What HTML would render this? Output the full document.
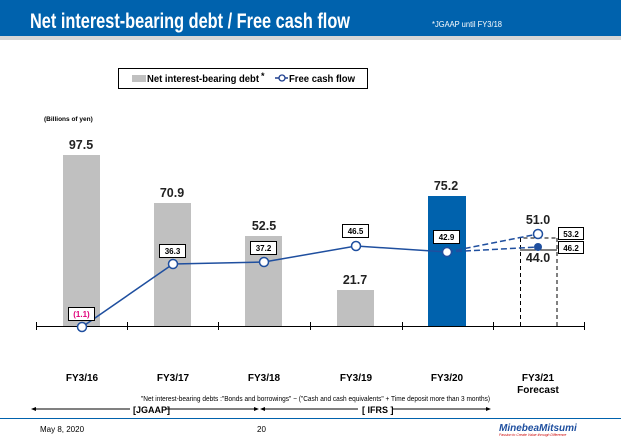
<!DOCTYPE html><html><head><style>body{margin:0;width:621px;height:438px;overflow:hidden;background:#fff;font-family:"Liberation Sans",sans-serif}</style></head><body>
<svg width="621" height="438" xmlns="http://www.w3.org/2000/svg" font-family="Liberation Sans, sans-serif">
<rect x="0" y="0" width="621" height="36" fill="#0062ad"/>
<rect x="0" y="36" width="621" height="4" fill="#d6d6d6"/>
<text x="30" y="28" font-size="21" font-weight="bold" fill="#fff" textLength="320" lengthAdjust="spacingAndGlyphs">Net interest-bearing debt / Free cash flow</text>
<text x="432" y="27" font-size="8" fill="#fff" textLength="70" lengthAdjust="spacingAndGlyphs">*JGAAP until FY3/18</text>
<rect x="118.5" y="68.5" width="249" height="20" fill="#fff" stroke="#000"/>
<rect x="132" y="75" width="14" height="7" fill="#c0c0c0"/>
<text x="147" y="82" font-size="10" font-weight="bold" textLength="112" lengthAdjust="spacingAndGlyphs">Net interest-bearing debt</text>
<text x="261" y="79" font-size="9" font-weight="bold">*</text>
<line x1="275" y1="78" x2="288" y2="78" stroke="#1f3f8f" stroke-width="1.5"/>
<circle cx="282" cy="78" r="3" fill="#fff" stroke="#1f3f8f" stroke-width="1.3"/>
<text x="289" y="82" font-size="10" font-weight="bold" textLength="66" lengthAdjust="spacingAndGlyphs">Free cash flow</text>
<text x="44" y="121" font-size="6.5" font-weight="bold">(Billions of yen)</text>
<g fill="#c0c0c0">
<rect x="63" y="155" width="37" height="171"/>
<rect x="154" y="203" width="37" height="123"/>
<rect x="245" y="236" width="37" height="90"/>
<rect x="337" y="290" width="37" height="36"/>
</g>
<rect x="428" y="196" width="38" height="130" fill="#0062ad"/>
<g font-size="12.5" font-weight="bold" text-anchor="middle" fill="#222">
<text x="81" y="149">97.5</text><text x="172" y="197">70.9</text><text x="264" y="230">52.5</text><text x="355" y="284">21.7</text><text x="446" y="190">75.2</text><text x="538" y="224">51.0</text><text x="538" y="262">44.0</text>
</g>
<path d="M520.5 326V238H557M557 238V326" fill="none" stroke="#000" stroke-dasharray="4,3"/>
<line x1="520" y1="250" x2="557" y2="250" stroke="#000"/>
<line x1="36" y1="326.5" x2="584" y2="326.5" stroke="#000"/>
<g stroke="#000"><line x1="36.5" y1="322" x2="36.5" y2="330"/><line x1="127.5" y1="322" x2="127.5" y2="330"/><line x1="218.5" y1="322" x2="218.5" y2="330"/><line x1="310.5" y1="322" x2="310.5" y2="330"/><line x1="402.5" y1="322" x2="402.5" y2="330"/><line x1="493.5" y1="322" x2="493.5" y2="330"/><line x1="584.5" y1="322" x2="584.5" y2="330"/></g>
<polyline points="82,327 173,264 264,262 356,246 447,252" fill="none" stroke="#1f4f9f" stroke-width="1.5"/>
<path d="M447 252L538 234M447 252L538 247" stroke="#1f4f9f" stroke-width="1.5" stroke-dasharray="6,3"/>
<g fill="#fff" stroke="#1f4f9f" stroke-width="1.5"><circle cx="82" cy="327" r="4.5"/><circle cx="173" cy="264" r="4.5"/><circle cx="264" cy="262" r="4.5"/><circle cx="356" cy="246" r="4.5"/><circle cx="447" cy="252" r="4.5"/><circle cx="538" cy="234" r="4.5"/></g>
<circle cx="538" cy="247" r="4" fill="#1f4f9f"/>
<g fill="#fff" stroke="#000"><rect x="68.5" y="307.5" width="26" height="13"/><rect x="159.5" y="244.5" width="26" height="13"/><rect x="250.5" y="241.5" width="26" height="13"/><rect x="342.5" y="224.5" width="26" height="13"/><rect x="433.5" y="230.5" width="26" height="13"/><rect x="558.5" y="227.5" width="25" height="12"/><rect x="558.5" y="241.5" width="25" height="12"/></g>
<g font-size="8" font-weight="bold" text-anchor="middle"><text x="81.5" y="317" fill="#e0007a">(1.1)</text><text x="172.5" y="254">36.3</text><text x="263.5" y="251">37.2</text><text x="355.5" y="234">46.5</text><text x="446.5" y="240">42.9</text><text x="571" y="237">53.2</text><text x="571" y="251">46.2</text></g>
<g font-size="10" font-weight="bold" text-anchor="middle"><text x="82" y="381">FY3/16</text><text x="173" y="381">FY3/17</text><text x="264" y="381">FY3/18</text><text x="356" y="381">FY3/19</text><text x="447" y="381">FY3/20</text><text x="538" y="381">FY3/21</text><text x="538" y="393">Forecast</text></g>
<text x="141" y="401" font-size="7" textLength="349" lengthAdjust="spacingAndGlyphs">"Net interest-bearing debts :"Bonds and borrowings" − ("Cash and cash equivalents" + Time deposit more than 3 months)</text>
<g stroke="#000" stroke-width="1"><line x1="34" y1="409" x2="130" y2="409"/><line x1="166" y1="409" x2="256" y2="409"/><line x1="262" y1="409" x2="358" y2="409"/><line x1="392" y1="409" x2="488" y2="409"/></g>
<g fill="#000"><path d="M31 409l5-2v4z"/><path d="M259 409l-5-2v4z"/><path d="M260 409l5-2v4z"/><path d="M491 409l-5-2v4z"/></g>
<text x="133" y="413" font-size="9" font-weight="bold">[JGAAP]</text>
<text x="362" y="413" font-size="9" font-weight="bold">[ IFRS ]</text>
<line x1="0" y1="418.5" x2="621" y2="418.5" stroke="#0062ad"/>
<text x="40" y="432" font-size="8">May 8, 2020</text>
<text x="257" y="432" font-size="8">20</text>
<text x="499" y="431" font-size="10" font-weight="bold" font-style="italic" fill="#1f4f9f">MinebeaMitsumi</text>
<text x="499" y="436" font-size="3.5" fill="#c00" font-style="italic">Passion to Create Value through Difference</text>
</svg>
</body></html>
